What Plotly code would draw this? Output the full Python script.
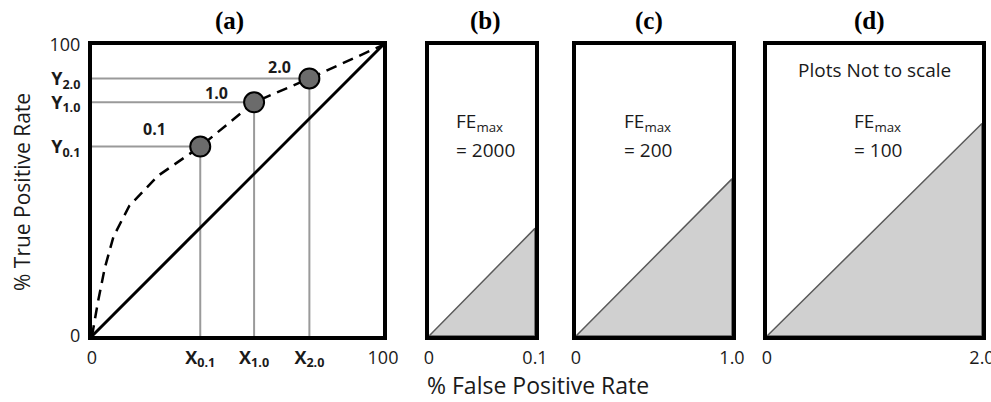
import plotly.graph_objects as go

# ---------------- data ----------------
# Panel (a): ROC-like curve (% FPR vs % TPR)
fpr_curve = [0, 2.0, 4.4, 7.4, 12.8, 22.6, 37.2, 55.7, 74.7, 100]
tpr_curve = [0, 11.5, 23.4, 34.2, 44.7, 55.0, 65.1, 80.3, 88.5, 100]
diag_x = [0, 100]
diag_y = [0, 100]
thresholds = ["0.1", "1.0", "2.0"]
fpr_pts = [37.2, 55.7, 74.7]
tpr_pts = [65.1, 80.3, 88.5]

# Panels (b)-(d)
panel_titles = ["(a)", "(b)", "(c)", "(d)"]
fe_max = [2000, 200, 100]
fpr_max = [0.1, 1.0, 2.0]
fpr_max_labels = ["0.1", "1.0", "2.0"]
tpr_at_fpr_max = [37, 54, 73]

# ---------------- layout helpers ----------------
W, H = 991, 402
FONT = "Open Sans"


def px_x(p):
    return p / W


def px_y(p):
    return 1 - p / H


top_px, bot_px = 45, 336
x_dom_px = [(92, 383), (429, 535), (576, 732), (767, 982)]
title_x_px = [229, 485, 649, 869]
label_shift = [(-46, 18), (-38, 9), (-30, 11)]

fig = go.Figure()

# gray guide lines in panel (a)
hx, hy, vx, vy = [], [], [], []
for fx, ty in zip(fpr_pts, tpr_pts):
    hx += [0, fx, None]
    hy += [ty, ty, None]
    vx += [fx, fx, None]
    vy += [0, ty, None]
fig.add_trace(go.Scatter(x=hx, y=hy, mode="lines", line=dict(color="#9a9a9a", width=2),
                         xaxis="x", yaxis="y", hoverinfo="skip"))
fig.add_trace(go.Scatter(x=vx, y=vy, mode="lines", line=dict(color="#9a9a9a", width=2),
                         xaxis="x", yaxis="y", hoverinfo="skip"))
# diagonal
fig.add_trace(go.Scatter(x=diag_x, y=diag_y, mode="lines", line=dict(color="black", width=3),
                         xaxis="x", yaxis="y"))
# dashed curve
fig.add_trace(go.Scatter(x=fpr_curve, y=tpr_curve, mode="lines",
                         line=dict(color="black", width=2.5, dash="11px,7px"),
                         xaxis="x", yaxis="y"))
# threshold points
fig.add_trace(go.Scatter(x=fpr_pts, y=tpr_pts, mode="markers",
                         marker=dict(size=20, color="#6b6b6b", line=dict(color="black", width=2)),
                         xaxis="x", yaxis="y"))

# triangles in panels (b)-(d)
for i, (m, t) in enumerate(zip(fpr_max, tpr_at_fpr_max)):
    ax = str(i + 2)
    fig.add_trace(go.Scatter(x=[0, m, m, 0], y=[0, t, 0, 0], mode="lines", fill="toself",
                             fillcolor="#d0d0d0", line=dict(color="#5a5a5a", width=1.5),
                             xaxis="x" + ax, yaxis="y" + ax))

annotations = []
# threshold labels
for fx, ty, lab, (dx, dy) in zip(fpr_pts, tpr_pts, thresholds, label_shift):
    annotations.append(dict(x=fx, y=ty, xref="x", yref="y", text="<b>" + lab + "</b>",
                            showarrow=False, xshift=dx, yshift=dy,
                            font=dict(family=FONT, size=16, color="#1a1a1a")))
# panel titles
for tx, tt in zip(title_x_px, panel_titles):
    annotations.append(dict(x=px_x(tx), y=px_y(21), xref="paper", yref="paper",
                            text="<b>" + tt + "</b>", showarrow=False,
                            xanchor="center", yanchor="middle",
                            font=dict(family="Liberation Serif", size=25, color="black")))
# FE_max labels (two lines, left aligned)
fe_left_px = [454, 622, 852]
for i, fe in enumerate(fe_max):
    annotations.append(dict(x=px_x(fe_left_px[i]), y=px_y(122), xref="paper", yref="paper",
                            text="FE<sub>max</sub>", showarrow=False,
                            xanchor="left", yanchor="middle",
                            font=dict(family=FONT, size=19, color="#1a1a1a")))
    annotations.append(dict(x=px_x(fe_left_px[i]), y=px_y(150), xref="paper", yref="paper",
                            text="= " + str(fe), showarrow=False,
                            xanchor="left", yanchor="middle",
                            font=dict(family=FONT, size=19, color="#1a1a1a")))
annotations.append(dict(x=0.5, y=0.914, xref="x4 domain", yref="y4 domain",
                        text="Plots Not to scale", showarrow=False,
                        xanchor="center", yanchor="middle",
                        font=dict(family=FONT, size=19, color="#1a1a1a")))
# axis titles
annotations.append(dict(x=px_x(538), y=px_y(385), xref="paper", yref="paper",
                        text="% False Positive Rate", showarrow=False,
                        xanchor="center", yanchor="middle",
                        font=dict(family=FONT, size=23, color="#1a1a1a")))
annotations.append(dict(x=px_x(22), y=px_y(192), xref="paper", yref="paper",
                        text="% True Positive Rate", showarrow=False, textangle=-90,
                        xanchor="center", yanchor="middle",
                        font=dict(family=FONT, size=21, color="#1a1a1a")))

axis_common = dict(showline=True, linewidth=4, linecolor="black", mirror=True,
                   showgrid=False, zeroline=False, ticks="", fixedrange=True,
                   automargin=False,
                   tickfont=dict(family=FONT, size=18, color="#1a1a1a"))

ydom = [px_y(bot_px), px_y(top_px)]
layout = dict(
    width=W, height=H, margin=dict(l=0, r=0, t=0, b=0, pad=0, autoexpand=False),
    paper_bgcolor="white", plot_bgcolor="white", showlegend=False,
    annotations=annotations,
)

x_tickvals_a = [0] + fpr_pts + [100]
x_ticktext_a = ["0"] + ["<b>X<sub>" + t + "</sub></b>" for t in thresholds] + ["100"]
y_tickvals_a = [0] + tpr_pts + [100]
y_ticktext_a = ["0"] + ["<b>Y<sub>" + t + "</sub></b>" for t in thresholds] + ["100"]

layout["xaxis"] = dict(axis_common, domain=[px_x(x_dom_px[0][0]), px_x(x_dom_px[0][1])],
                       range=[0, 100], anchor="y", tickvals=x_tickvals_a, ticktext=x_ticktext_a,
                       ticklabelstandoff=2, ticklabeloverflow="allow")
layout["yaxis"] = dict(axis_common, domain=ydom, range=[0, 100], anchor="x",
                       tickvals=y_tickvals_a, ticktext=y_ticktext_a, ticklabelstandoff=4,
                       ticklabeloverflow="allow")
for i, (m, lab) in enumerate(zip(fpr_max, fpr_max_labels)):
    ax = str(i + 2)
    dpx = x_dom_px[i + 1]
    layout["xaxis" + ax] = dict(axis_common, domain=[px_x(dpx[0]), px_x(dpx[1])],
                                range=[0, m], anchor="y" + ax, tickvals=[0, m],
                                ticktext=["0", lab], ticklabelstandoff=2,
                                ticklabeloverflow="allow")
    layout["yaxis" + ax] = dict(axis_common, domain=ydom, range=[0, 100], anchor="x" + ax,
                                showticklabels=False)

fig.update_layout(**layout)
fig.write_html("out.html")
